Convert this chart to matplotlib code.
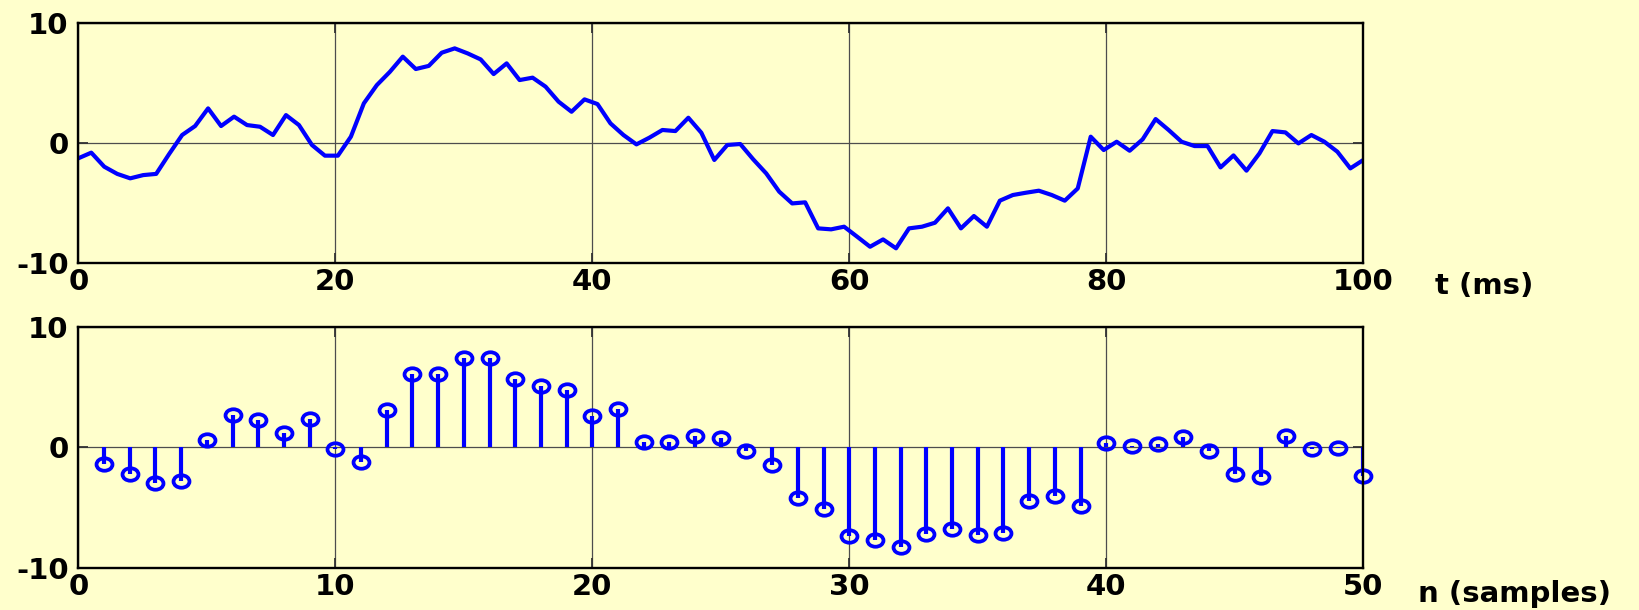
import matplotlib
matplotlib.use("Agg")
import matplotlib.pyplot as plt
from matplotlib.path import Path
import numpy as np

# continuous-time signal x(t) (100 points over 0..100 ms)
x_t = [-1.3, -0.83, -2.0, -2.6, -2.97, -2.7, -2.6, -0.94, 0.64, 1.39,
       2.86, 1.39, 2.17, 1.47, 1.33, 0.64, 2.3, 1.47, -0.19, -1.08,
       -1.08, 0.5, 3.28, 4.8, 5.9, 7.17, 6.14, 6.4, 7.5, 7.86,
       7.44, 6.94, 5.72, 6.61, 5.22, 5.42, 4.67, 3.42, 2.58, 3.61,
       3.22, 1.61, 0.64, -0.14, 0.42, 1.06, 0.97, 2.08, 0.83, -1.44,
       -0.19, -0.11, -1.39, -2.56, -4.08, -5.06, -4.97, -7.14, -7.22, -7.0,
       -7.83, -8.67, -8.06, -8.8, -7.14, -7.0, -6.67, -5.47, -7.14, -6.11,
       -7.0, -4.83, -4.36, -4.17, -4.0, -4.36, -4.83, -3.81, 0.5, -0.61,
       0.08, -0.67, 0.28, 1.97, 1.06, 0.08, -0.28, -0.28, -2.06, -1.06,
       -2.33, -0.89, 0.97, 0.86, -0.06, 0.64, 0.08, -0.75, -2.14, -1.44]
t_start, t_end = 0, 100

n_samples = list(range(1, 51))
x_n = [-1.39, -2.22, -2.97, -2.83, 0.56, 2.69, 2.22, 1.19, 2.36, -0.19,
       -1.19, 3.06, 6.06, 6.11, 7.44, 7.44, 5.69, 5.06, 4.72, 2.56,
       3.19, 0.42, 0.42, 0.92, 0.75, -0.33, -1.44, -4.22, -5.14, -7.36,
       -7.72, -8.28, -7.22, -6.75, -7.31, -7.08, -4.44, -4.08, -4.86, 0.33,
       0.08, 0.28, 0.83, -0.33, -2.22, -2.44, 0.97, -0.19, -0.06, -2.36]

xticks_top = [0, 20, 40, 60, 80, 100]
xticks_bot = [0, 10, 20, 30, 40, 50]
yticks = [-10, 0, 10]

bg = '#FFFFCC'
blue = '#0000FF'
fs = 21

plt.rcParams['font.family'] = ['DejaVu Sans']
plt.rcParams['font.weight'] = 'bold'
plt.rcParams['font.size'] = fs
plt.rcParams['axes.unicode_minus'] = False

W, H = 1639, 610
fig = plt.figure(figsize=(W / 100, H / 100), dpi=100, facecolor=bg)

left, right = 78.3 / W, 1363.3 / W
ax1 = fig.add_axes([left, 1 - 262.7 / H, right - left, 240 / H])
ax2 = fig.add_axes([left, 1 - 567.7 / H, right - left, 241 / H])


def style(ax, xticks, xmax):
    ax.set_facecolor(bg)
    ax.set_xlim(0, xmax)
    ax.set_ylim(-10, 10)
    ax.set_xticks(xticks)
    ax.set_yticks(yticks)
    ax.grid(True, color='0.3', linewidth=0.9)
    ax.set_axisbelow(True)
    for s in ax.spines.values():
        s.set_linewidth(1.7)
        s.set_color('black')
        s.set_zorder(5)
    ax.tick_params(direction='in', length=7, width=1.3, top=True, right=True,
                   labelsize=fs, color='0.2')
    ax.tick_params(axis='x', pad=4)
    ax.tick_params(axis='y', pad=7)
    for lab in ax.get_xticklabels() + ax.get_yticklabels():
        lab.set_fontweight('bold')


# upper panel: continuous signal
t_ms = np.linspace(t_start, t_end, len(x_t))
ax1.plot(t_ms, x_t, color=blue, linewidth=3.0, solid_joinstyle='round', zorder=3)
style(ax1, xticks_top, 100)

# lower panel: samples, open markers slightly wider than tall like the original
circ = Path.unit_circle()
ellipse = Path(circ.vertices * [1.28, 1.0], circ.codes)

markerline, stemlines, baseline = ax2.stem(n_samples, x_n, linefmt='-', markerfmt='o', basefmt=' ')
stemlines.set_color(blue)
stemlines.set_linewidth(3.0)
stemlines.set_zorder(3)
markerline.set_marker(ellipse)
markerline.set_color(blue)
markerline.set_markerfacecolor('none')
markerline.set_markersize(11.5)
markerline.set_markeredgewidth(2.7)
markerline.set_clip_on(False)
markerline.set_zorder(4)
style(ax2, xticks_bot, 50)

fig.text(1435 / W, 1 - 286 / H, 't (ms)', ha='left', va='center',
         fontsize=fs, fontweight='bold')
fig.text(1418 / W, 1 - 594 / H, 'n (samples)', ha='left', va='center',
         fontsize=fs, fontweight='bold')

fig.savefig('out.png', dpi=100, facecolor=bg)
